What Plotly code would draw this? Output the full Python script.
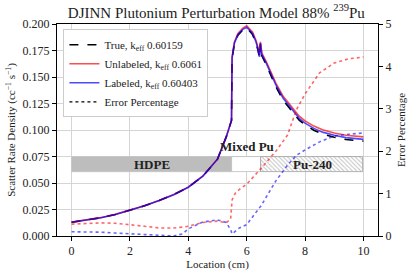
import plotly.graph_objects as go

# Scatter rate density curves (location in cm)
loc = [0, 0.5, 1, 1.5, 2, 2.5, 3, 3.5, 4, 4.5, 5, 5.3, 5.48, 5.5, 5.58, 5.7, 5.87, 6.0,
       6.2, 6.32, 6.38, 6.44, 6.47, 6.52, 6.67, 6.84, 7.0, 7.25, 7.5, 7.8, 8.0, 8.3,
       8.6, 9.0, 9.4, 9.7, 10.0]
labeled = [0.0130, 0.0150, 0.0172, 0.0203, 0.0242, 0.0285, 0.0335, 0.0390, 0.0460, 0.0565,
           0.0725, 0.0935, 0.1090, 0.1680, 0.1820, 0.1900, 0.1950, 0.1970,
           0.1910, 0.1830, 0.1770, 0.1690, 0.1820, 0.1710, 0.1630, 0.1520, 0.1425, 0.1300,
           0.1210, 0.1110, 0.1065, 0.1015, 0.0980, 0.0950, 0.0928, 0.0918, 0.0912]
unlabeled = [0.0131, 0.0151, 0.0173, 0.0204, 0.0243, 0.0286, 0.0336, 0.0391, 0.0461, 0.0566,
             0.0726, 0.0936, 0.1091, 0.1685, 0.1830, 0.1910, 0.1962, 0.1983,
             0.1925, 0.1845, 0.1785, 0.1705, 0.1832, 0.1725, 0.1645, 0.1537, 0.1443, 0.1318,
             0.1228, 0.1130, 0.1086, 0.1037, 0.1002, 0.0972, 0.0950, 0.0940, 0.0935]
true_vals = [0.0130, 0.0150, 0.0172, 0.0203, 0.0242, 0.0285, 0.0335, 0.0390, 0.0460, 0.0565,
             0.0725, 0.0935, 0.1090, 0.1675, 0.1815, 0.1895, 0.1945, 0.1965,
             0.1900, 0.1820, 0.1760, 0.1680, 0.1810, 0.1700, 0.1615, 0.1505, 0.1408, 0.1282,
             0.1192, 0.1092, 0.1048, 0.0998, 0.0962, 0.0932, 0.0910, 0.0900, 0.0895]

# Error percentage curves
err_loc = [0, 0.5, 1, 1.5, 2, 2.5, 3, 3.5, 3.8, 4, 4.5, 5, 5.3, 5.45, 5.5, 5.6, 5.75, 6.0,
           6.5, 7.0, 7.4, 7.7, 8.0, 8.5, 9.0, 9.5, 10.0]
err_unlabeled = [0.28, 0.30, 0.31, 0.30, 0.27, 0.23, 0.19, 0.19, 0.21, 0.23, 0.32, 0.35, 0.31,
                 0.40, 0.85, 1.00, 1.10, 1.22, 1.60, 2.00, 2.38, 2.97, 3.35, 3.85, 4.08, 4.18,
                 4.22]
err_labeled = [0.10, 0.10, 0.09, 0.07, 0.05, 0.03, 0.01, 0.00, 0.05, 0.17, 0.33, 0.38, 0.32,
               0.15, 0.05, 0.10, 0.19, 0.27, 0.72, 1.30, 1.67, 1.90, 2.03, 2.22, 2.36, 2.40,
               2.43]

# Material regions
region_names = ["HDPE", "Mixed Pu", "Pu-240"]
region_start = [0.0, 5.5, 6.5]
region_end = [5.5, 6.5, 10.0]
region_bottom = 0.06
region_top = 0.075

series_names = ["True, k<sub>eff</sub> 0.60159", "Unlabeled, k<sub>eff</sub> 0.6061",
                "Labeled, k<sub>eff</sub> 0.60403", "Error Percentage"]

SERIF = "Liberation Serif"
TXT = "#222222"

fig = go.Figure()

region_styles = [
    dict(color="#bdbdbd", line=dict(color="#bdbdbd", width=0.5)),
    dict(color="white", line=dict(color="#bdbdbd", width=0.8)),
    dict(color="white", line=dict(color="#9e9e9e", width=0.8),
         pattern=dict(shape="\\", fgcolor="#8c8c8c", bgcolor="white", size=3, solidity=0.35)),
]
for i, name in enumerate(region_names):
    fig.add_trace(go.Bar(
        x=[(region_start[i] + region_end[i]) / 2], y=[region_top - region_bottom],
        base=[region_bottom], width=[region_end[i] - region_start[i]],
        marker=region_styles[i], showlegend=False, hoverinfo="skip"))

fig.add_trace(go.Scatter(x=loc, y=true_vals, mode="lines", name=series_names[0],
                         line=dict(color="black", width=1.6, dash="dash")))
fig.add_trace(go.Scatter(x=loc, y=unlabeled, mode="lines", name=series_names[1],
                         line=dict(color="rgba(255,0,0,0.7)", width=1.6)))
fig.add_trace(go.Scatter(x=loc, y=labeled, mode="lines", name=series_names[2],
                         line=dict(color="rgba(0,0,255,0.7)", width=1.6)))
fig.add_trace(go.Scatter(x=err_loc, y=err_unlabeled, mode="lines", yaxis="y2", showlegend=False,
                         line=dict(color="rgba(255,0,0,0.6)", width=1.6, dash="dot")))
fig.add_trace(go.Scatter(x=err_loc, y=err_labeled, mode="lines", yaxis="y2", showlegend=False,
                         line=dict(color="rgba(0,0,255,0.6)", width=1.6, dash="dot")))
fig.add_trace(go.Scatter(x=[None], y=[None], mode="lines", name=series_names[3],
                         line=dict(color="black", width=1.3, dash="dot")))

label_x = [2.75, 6.0, 8.25]
label_y = [0.0675, 0.084, 0.0675]
for i, name in enumerate(region_names):
    fig.add_annotation(x=label_x[i], y=label_y[i], text="<b>%s</b>" % name, showarrow=False,
                       font=dict(family=SERIF, size=13, color=TXT), xref="x", yref="y")

axis_common = dict(showline=True, linecolor="black", linewidth=1, ticks="outside", ticklen=4,
                   tickcolor="black", automargin=False,
                   tickfont=dict(family=SERIF, size=12, color=TXT))

fig.update_layout(
    width=412, height=275,
    margin=dict(l=57, r=34, t=24, b=39, autoexpand=False),
    paper_bgcolor="white", plot_bgcolor="white",
    barmode="overlay", bargap=0,
    font=dict(family=SERIF, size=11, color=TXT),
    title=dict(text="DJINN Plutonium Perturbation Model 88% <sup>239</sup>Pu",
               x=0.525, xanchor="center", y=0.955, yanchor="middle", yref="container",
               automargin=False, font=dict(family=SERIF, size=15, color=TXT)),
    xaxis=dict(range=[-0.5, 10.5], tickvals=[0, 2, 4, 6, 8, 10], mirror=True,
               showgrid=True, gridcolor="#d5d5d5", gridwidth=1, zeroline=False,
               title=dict(text="Location (cm)", standoff=1,
                          font=dict(family=SERIF, size=11, color=TXT)),
               **axis_common),
    yaxis=dict(range=[0, 0.2], dtick=0.025, tickformat=".3f", mirror=True,
               showgrid=True, gridcolor="#d5d5d5", gridwidth=1, zeroline=False,
               title=dict(text="Scatter Rate Density (cc<sup>−1</sup> s<sup>−1</sup>)", standoff=4,
                          font=dict(family=SERIF, size=11, color=TXT)),
               **axis_common),
    yaxis2=dict(range=[0, 5], dtick=1, overlaying="y", side="right", showgrid=False,
                zeroline=False,
                title=dict(text="Error Percentage", standoff=6,
                           font=dict(family=SERIF, size=11, color=TXT)),
                **axis_common),
    legend=dict(x=0.02, y=0.975, xanchor="left", yanchor="top", bgcolor="white",
                bordercolor="#cccccc", borderwidth=1,
                font=dict(family=SERIF, size=11, color=TXT),
                tracegroupgap=0, itemwidth=30),
    showlegend=True,
)

fig.write_html("out.html", config={"displayModeBar": False},
               post_script="document.body.style.margin='0';document.body.style.padding='0';")
